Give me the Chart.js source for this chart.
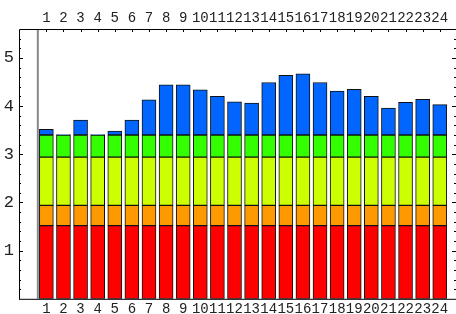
<!DOCTYPE html>
<html>
<head>
<meta charset="utf-8">
<script src="https://cdn.jsdelivr.net/npm/chart.js@4"></script>
<style>
  body { margin: 0; background: #fff; }
  #wrap { width: 456px; height: 314px; position: relative; }
</style>
</head>
<body>
<div id="wrap"><canvas id="chart"></canvas></div>
<script>
"use strict";

// categories 1..24
const labels = ["1", "2", "3", "4", "5", "6", "7", "8", "9", "10", "11", "12",
  "13", "14", "15", "16", "17", "18", "19", "20", "21", "22", "23", "24"];

// stacked segments, bottom to top
const red = [1.52, 1.52, 1.52, 1.52, 1.52, 1.52, 1.52, 1.52, 1.52, 1.52, 1.52, 1.52,
  1.52, 1.52, 1.52, 1.52, 1.52, 1.52, 1.52, 1.52, 1.52, 1.52, 1.52, 1.52];
const orange = [0.42, 0.42, 0.42, 0.42, 0.42, 0.42, 0.42, 0.42, 0.42, 0.42, 0.42, 0.42,
  0.42, 0.42, 0.42, 0.42, 0.42, 0.42, 0.42, 0.42, 0.42, 0.42, 0.42, 0.42];
const yellow = [1.0, 1.0, 1.0, 1.0, 1.0, 1.0, 1.0, 1.0, 1.0, 1.0, 1.0, 1.0,
  1.0, 1.0, 1.0, 1.0, 1.0, 1.0, 1.0, 1.0, 1.0, 1.0, 1.0, 1.0];
const green = [0.46, 0.46, 0.46, 0.46, 0.46, 0.46, 0.46, 0.46, 0.46, 0.46, 0.46, 0.46,
  0.46, 0.46, 0.46, 0.46, 0.46, 0.46, 0.46, 0.46, 0.46, 0.46, 0.46, 0.46];
const blue = [0.12, 0.01, 0.31, 0.01, 0.08, 0.31, 0.73, 1.04, 1.04, 0.94, 0.80, 0.69,
  0.66, 1.09, 1.24, 1.27, 1.09, 0.91, 0.95, 0.80, 0.56, 0.68, 0.74, 0.63];

const yTicks = [1, 2, 3, 4, 5];
const yMax = 5.6;
const xMin = -0.6, xMax = 24.95;

const catTicks = s => { s.ticks = labels.map(l => ({ value: +l })); };

// frame, inward tick marks and the grey axis line
const framePlugin = {
  id: "frame",
  beforeDatasetsDraw(chart) {
    const { ctx, chartArea: a, scales } = chart;
    const x = scales.x, y = scales.y;
    ctx.save();
    ctx.strokeStyle = "#888";
    ctx.lineWidth = 2;
    const gx = x.getPixelForValue(0.5);
    ctx.beginPath();
    ctx.moveTo(gx, a.top);
    ctx.lineTo(gx, a.bottom);
    ctx.stroke();

    ctx.strokeStyle = "#000";
    ctx.lineWidth = 1;
    ctx.beginPath();
    for (let k = 1; k < yMax * 5; k++) {
      const py = Math.round(y.getPixelForValue(k / 5)) + 0.5;
      const len = k % 5 === 0 ? 4 : 2;
      ctx.moveTo(a.left, py);
      ctx.lineTo(a.left + len, py);
      ctx.moveTo(a.right, py);
      ctx.lineTo(a.right - len, py);
    }
    labels.forEach(l => {
      const px = Math.round(x.getPixelForValue(+l)) + 0.5;
      ctx.moveTo(px, a.top);
      ctx.lineTo(px, a.top + 3);
    });
    ctx.stroke();
    ctx.restore();
  },
  afterDatasetsDraw(chart) {
    const { ctx, chartArea: a } = chart;
    ctx.save();
    ctx.strokeStyle = "#000";
    ctx.lineWidth = 1;
    ctx.beginPath();
    ctx.moveTo(a.left + 0.5, a.bottom + 0.5);
    ctx.lineTo(a.left + 0.5, a.top + 0.5);
    ctx.lineTo(a.right, a.top + 0.5);
    ctx.moveTo(a.left, a.bottom + 0.5);
    ctx.lineTo(a.right, a.bottom + 0.5);
    ctx.stroke();
    ctx.restore();
  }
};

const seg = (data, color) => ({
  data: data,
  backgroundColor: color,
  borderColor: "#111",
  borderWidth: 1,
  borderSkipped: false,
  barThickness: 14
});

const xFont = { family: "Liberation Mono", size: 14 };

new Chart(document.getElementById("chart"), {
  type: "bar",
  data: {
    labels: labels,
    datasets: [
      seg(red, "#ff0000"),
      seg(orange, "#ff9900"),
      seg(yellow, "#ccff00"),
      seg(green, "#33ff00"),
      seg(blue, "#0066ff")
    ]
  },
  options: {
    responsive: true,
    maintainAspectRatio: false,
    animation: false,
    layout: { padding: 0 },
    plugins: { legend: { display: false }, tooltip: { enabled: false } },
    scales: {
      x: {
        type: "linear",
        stacked: true,
        offset: false,
        min: xMin,
        max: xMax,
        position: "bottom",
        grid: { display: false, drawTicks: false, offset: false },
        border: { display: false },
        afterBuildTicks: catTicks,
        afterFit: s => { s.height = 15; },
        ticks: { font: xFont, color: "#222", padding: 2, maxRotation: 0, autoSkip: false }
      },
      x2: {
        type: "linear",
        offset: false,
        min: xMin,
        max: xMax,
        position: "top",
        grid: { display: false, drawTicks: false, offset: false },
        border: { display: false },
        afterBuildTicks: catTicks,
        afterFit: s => { s.height = 29; },
        ticks: { font: xFont, color: "#222", padding: 2, maxRotation: 0, autoSkip: false }
      },
      y: {
        stacked: true,
        min: 0,
        max: yMax,
        grid: { display: false, drawTicks: false },
        border: { display: false },
        afterBuildTicks: s => { s.ticks = yTicks.map(v => ({ value: v })); },
        afterFit: s => { s.width = 19; },
        ticks: { font: { family: "Liberation Mono", size: 17 }, color: "#222", padding: 5 }
      }
    }
  },
  plugins: [framePlugin]
});
</script>
</body>
</html>
